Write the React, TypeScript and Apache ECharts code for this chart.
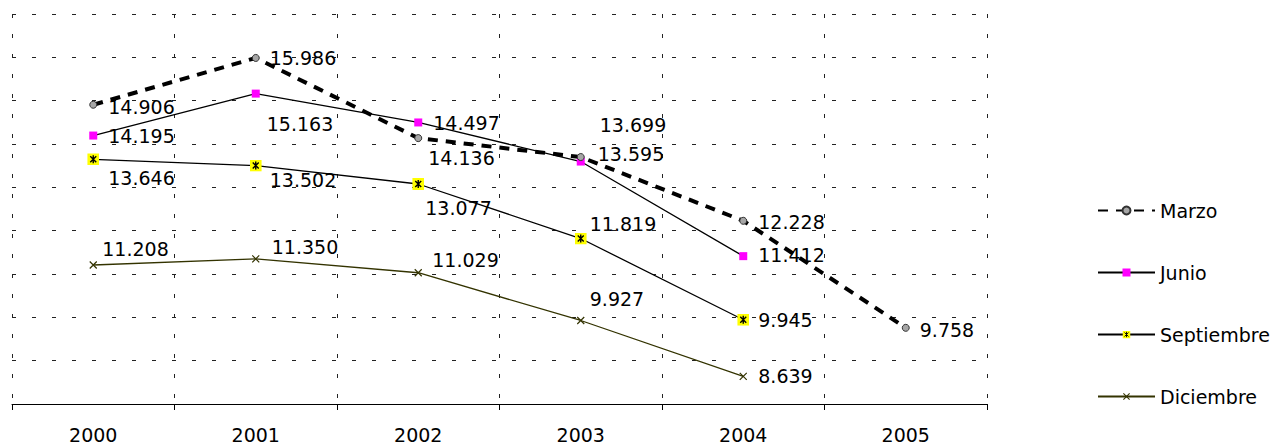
import React, { useEffect, useRef } from 'react';
import * as echarts from 'echarts';

const years = ['2000', '2001', '2002', '2003', '2004', '2005'];
const marzo = [14.906, 15.986, 14.136, 13.699, 12.228, 9.758];
const junio = [14.195, 15.163, 14.497, 13.595, 11.412, null];
const septiembre = [13.646, 13.502, 13.077, 11.819, 9.945, null];
const diciembre = [11.208, 11.35, 11.029, 9.927, 8.639, null];

// label offsets (text left edge / vertical centre relative to the point)
const marzoLabelOffsets = [[15, 2], [14, 0], [10, 20], [19, -32], [15, 1], [14, 2]];
const junioLabelOffsets = [[15, 0], [11, 30], [15, 1], [17, -8], [15, -1], [0, 0]];
const septiembreLabelOffsets = [[15, 19], [14, 14], [7, 24], [9, -15], [15, 0], [0, 0]];
const diciembreLabelOffsets = [[9, -16], [16, -12], [14, -13], [9, -21], [15, 0], [0, 0]];

const FONT = 'DejaVu Sans';
const FS = 19;

const septSvg =
  "<svg xmlns='http://www.w3.org/2000/svg' width='12' height='12' viewBox='0 0 12 12'><rect width='12' height='12' fill='#ffff00'/><path d='M3,3L9,9M9,3L3,9M6,2L6,10' stroke='#000' stroke-width='1.4' fill='none'/></svg>";
const diciSvg =
  "<svg xmlns='http://www.w3.org/2000/svg' width='9' height='9' viewBox='0 0 9 9'><path d='M1,1L8,8M8,1L1,8' stroke='#333300' stroke-width='1.2' fill='none'/></svg>";
const toImg = (s: string) => 'image://data:image/svg+xml;charset=utf-8,' + encodeURIComponent(s);

function buildData(values: (number | null)[], offsets: number[][]) {
  return values.map((v, i) =>
    v == null ? null : { value: v, label: { offset: offsets[i] } }
  );
}

const labelBase = {
  show: true,
  position: ['50%', '50%'],
  align: 'left',
  verticalAlign: 'middle',
  color: '#000',
  fontSize: FS,
  fontFamily: FONT,
  formatter: (p: any) => Number(p.value).toFixed(3),
};

export default function App() {
  const ref = useRef<HTMLDivElement>(null);
  useEffect(() => {
    if (!ref.current) return;
    const chart = echarts.init(ref.current, null, { renderer: 'svg' });
    chart.setOption({
      animation: false,
      backgroundColor: '#fff',
      textStyle: { fontFamily: FONT },
      grid: { left: 12, right: 289, top: 14, bottom: 43 },
      legend: {
        orient: 'vertical',
        left: 1097,
        top: 201,
        padding: 0,
        itemWidth: 57,
        itemHeight: 10,
        itemGap: 43,
        textStyle: { fontSize: FS, fontFamily: FONT, color: '#000' },
        data: ['Marzo', 'Junio', 'Septiembre', 'Diciembre'],
      },
      xAxis: {
        type: 'category',
        data: years,
        boundaryGap: true,
        axisLine: { show: true, lineStyle: { color: '#000', width: 1 } },
        axisTick: { show: true, length: 6, lineStyle: { color: '#000' } },
        axisLabel: { color: '#000', fontSize: FS, fontFamily: FONT, margin: 21 },
        splitLine: { show: true, lineStyle: { color: '#222', width: 1, type: [4, 16] } },
      },
      yAxis: {
        type: 'value',
        min: 8,
        max: 17,
        interval: 1,
        axisLine: { show: false },
        axisTick: { show: false },
        axisLabel: { show: false },
        splitLine: { show: true, lineStyle: { color: '#222', width: 1, type: [4, 16] } },
      },
      series: [
        {
          name: 'Marzo',
          type: 'line',
          z: 4,
          data: buildData(marzo, marzoLabelOffsets),
          symbol: 'circle',
          symbolSize: 7,
          lineStyle: { color: '#000', width: 4, type: [10, 8] },
          itemStyle: { color: '#a6a6a6', borderColor: '#333', borderWidth: 1 },
          label: labelBase,
        },
        {
          name: 'Junio',
          type: 'line',
          z: 3,
          data: buildData(junio, junioLabelOffsets),
          symbol: 'rect',
          symbolSize: 8,
          lineStyle: { color: '#000', width: 1.3 },
          itemStyle: { color: '#ff00ff' },
          label: labelBase,
        },
        {
          name: 'Septiembre',
          type: 'line',
          z: 3,
          data: buildData(septiembre, septiembreLabelOffsets),
          symbol: toImg(septSvg),
          symbolSize: 12,
          lineStyle: { color: '#000', width: 1.3 },
          itemStyle: { color: '#ffff00' },
          label: labelBase,
        },
        {
          name: 'Diciembre',
          type: 'line',
          z: 3,
          data: buildData(diciembre, diciembreLabelOffsets),
          symbol: toImg(diciSvg),
          symbolSize: 9,
          lineStyle: { color: '#333300', width: 1.3 },
          itemStyle: { color: '#333300' },
          label: labelBase,
        },
      ],
    });
    return () => chart.dispose();
  }, []);
  return (
    <div
      ref={ref}
      style={{ position: 'fixed', left: 0, top: 0, width: 1276, height: 447, background: '#fff' }}
    />
  );
}
